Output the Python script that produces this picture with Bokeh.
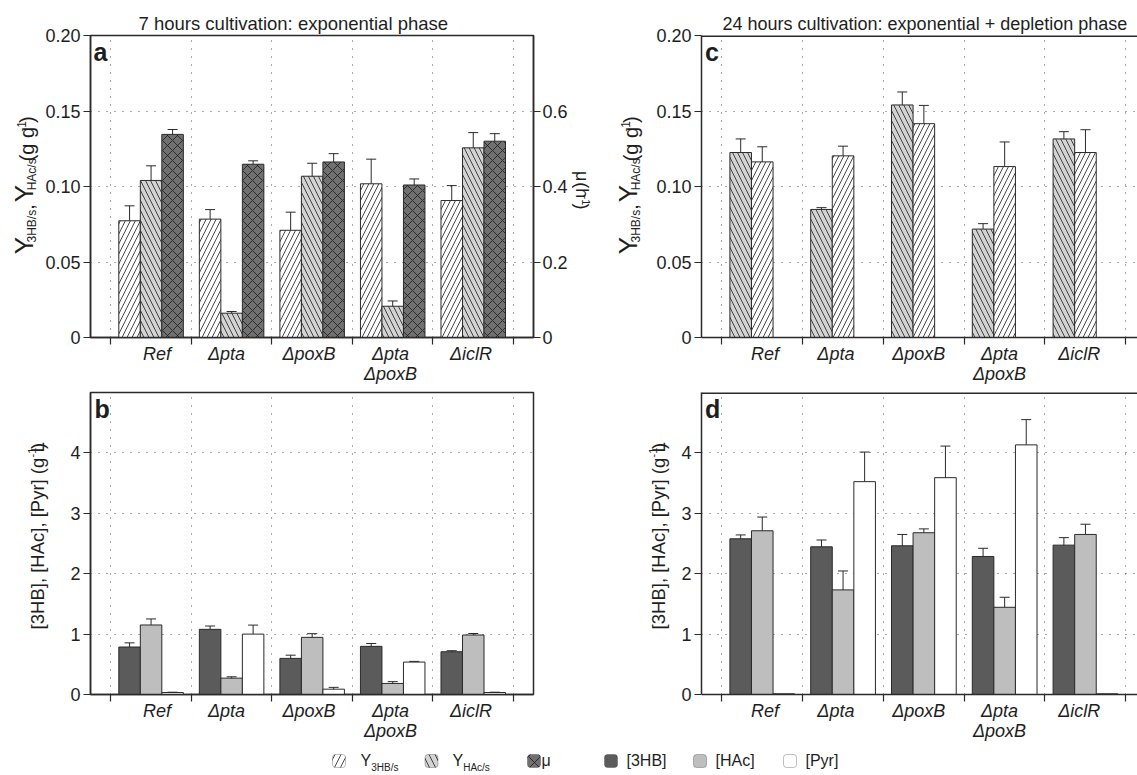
import numpy as np
from bokeh.plotting import figure
from bokeh.models import (Range1d, LinearAxis, FixedTicker, Whisker, TeeHead,
                          ColumnDataSource, Label, Span, BoxAnnotation, Title)
from bokeh.layouts import column, row
from bokeh.embed import file_html
from bokeh.resources import INLINE

# ---------------- data ----------------
strains = ["Ref", "Δpta", "ΔpoxB", "Δpta\nΔpoxB", "ΔiclR"]

# panel a : 7 h, yields (g/g) and growth rate (1/h)
y3hb_7h = [0.0773, 0.0784, 0.0710, 0.1018, 0.0907]
y3hb_7h_err = [0.0099, 0.0063, 0.0120, 0.0163, 0.0099]
yhac_7h = [0.1040, 0.0161, 0.1068, 0.0207, 0.1256]
yhac_7h_err = [0.0097, 0.0011, 0.0086, 0.0035, 0.0101]
mu_7h = [0.538, 0.459, 0.465, 0.404, 0.520]
mu_7h_err = [0.013, 0.009, 0.022, 0.016, 0.020]

# panel c : 24 h, yields (g/g)
yhac_24h = [0.1225, 0.0848, 0.1540, 0.0718, 0.1315]
yhac_24h_err = [0.0090, 0.0012, 0.0086, 0.0036, 0.0048]
y3hb_24h = [0.1163, 0.1203, 0.1416, 0.1132, 0.1225]
y3hb_24h_err = [0.0100, 0.0064, 0.0121, 0.0163, 0.0151]

# panel b : 7 h, concentrations (g/L)
c3hb_7h = [0.786, 1.079, 0.598, 0.797, 0.708]
c3hb_7h_err = [0.069, 0.055, 0.053, 0.047, 0.017]
chac_7h = [1.151, 0.271, 0.946, 0.183, 0.985]
chac_7h_err = [0.100, 0.022, 0.061, 0.030, 0.025]
cpyr_7h = [0.033, 1.000, 0.088, 0.537, 0.033]
cpyr_7h_err = [0.005, 0.149, 0.030, 0.011, 0.005]

# panel d : 24 h, concentrations (g/L)
c3hb_24h = [2.578, 2.445, 2.462, 2.285, 2.473]
c3hb_24h_err = [0.064, 0.113, 0.188, 0.136, 0.124]
chac_24h = [2.711, 1.732, 2.678, 1.444, 2.650]
chac_24h_err = [0.227, 0.313, 0.064, 0.166, 0.169]
cpyr_24h = [0.012, 3.524, 3.590, 4.133, 0.012]
cpyr_24h_err = [0.0, 0.490, 0.523, 0.418, 0.0]

yield_ticks = [0, 0.05, 0.10, 0.15, 0.20]
yield_tick_labels = ["0", "0.05", "0.10", "0.15", "0.20"]
mu_ticks = [0, 0.2, 0.4, 0.6]
mu_tick_labels = ["0", "0.2", "0.4", "0.6"]
conc_ticks = [0, 1, 2, 3, 4]
conc_tick_labels = ["0", "1", "2", "3", "4"]

title_7h = "7 hours cultivation: exponential phase"
title_24h = "24 hours cultivation: exponential + depletion phase"

# ---------------- style ----------------
FONT = "Liberation Sans"
INK = "#1e1e1e"
EDGE = "#2a2a2a"
GRID = "#555555"
HATCH = "#1a1a1a"
C_WHITE = "#ffffff"
C_LGRAY = "#d3d3d3"
C_MU = "#707070"
C_3HB = "#5b5b5b"
C_HAC = "#bebebe"

BAR_W = 0.267
OFFS = [0.235, 0.502, 0.769]
MID = 0.3465   # baseline -> vertical middle of the text box, in em

ADV = {" ": .278, ",": .278, "(": .333, ")": .333, "g": .556, "Y": .667, "3": .556,
       "H": .722, "B": .667, "/": .278, "s": .5, "A": .667, "c": .5, "-": .333,
       "1": .556, "[": .278, "]": .278, "P": .667, "y": .5, "r": .333, "L": .556,
       "h": .556, "μ": .576}


def tw(s, size):
    return sum(ADV.get(ch, 0.556) for ch in s) * size


idx = np.arange(len(strains))


def style_axis(ax, standoff=3):
    ax.axis_line_color = EDGE
    ax.axis_line_width = 1.5
    ax.major_tick_line_color = EDGE
    ax.major_tick_line_width = 1.2
    ax.minor_tick_line_color = EDGE
    ax.minor_tick_line_width = 1.2
    ax.major_tick_out = 7
    ax.major_tick_in = 0
    ax.minor_tick_out = 0
    ax.minor_tick_in = 0
    ax.major_label_text_font = FONT
    ax.major_label_text_font_size = "18px"
    ax.major_label_text_color = INK
    ax.major_label_standoff = standoff


def base_fig(width, height, left, right, top, bottom, x_end, y_end,
             yticks, ylabels, dx, upx, box=True):
    p = figure(width=width, height=height, title=None,
               x_range=Range1d(-0.25, x_end), y_range=Range1d(0, y_end),
               output_backend="svg", toolbar_location=None,
               min_border_left=left, min_border_right=right,
               min_border_top=top, min_border_bottom=bottom)
    p.background_fill_color = "white"
    p.border_fill_color = "white"
    if box:
        p.outline_line_color = EDGE
        p.outline_line_width = 1.5
    else:
        p.outline_line_color = None
        p.add_layout(Span(location=y_end, dimension="width",
                          line_color=EDGE, line_width=3))
    centers = [float(i + 0.5 + dx[i] / upx) for i in idx]
    xa = p.xaxis[0]
    style_axis(xa, standoff=-1)
    xa.ticker = FixedTicker(ticks=centers, minor_ticks=list(range(6)))
    xa.major_label_overrides = dict(zip(centers, strains))
    xa.major_label_text_font_style = "italic"
    xa.major_label_text_line_height = 1.0
    xa.major_tick_out = 0
    xa.minor_tick_out = 7
    ya = p.yaxis[0]
    style_axis(ya)
    ya.ticker = FixedTicker(ticks=yticks)
    ya.major_label_overrides = dict(zip(yticks, ylabels))
    p.xgrid[0].ticker = FixedTicker(ticks=list(range(6)))
    p.ygrid[0].ticker = FixedTicker(ticks=yticks)
    for g in (p.xgrid[0], p.ygrid[0]):
        g.grid_line_color = GRID
        g.grid_line_dash = "1 7"
        g.grid_line_width = 1
    return p


def bars(p, slot, vals, fill, hatch=None, rng="default"):
    kw = {}
    if hatch:
        kw = dict(hatch_pattern=hatch, hatch_color=HATCH, hatch_scale=10,
                  hatch_weight=0.8)
    p.vbar(x=idx + OFFS[slot], top=vals, bottom=0, width=BAR_W,
           fill_color=fill, line_color=EDGE, line_width=1,
           y_range_name=rng, **kw)


def errs(p, slot, vals, err, rng="default"):
    v = np.array(vals, dtype=float)
    e = np.array(err, dtype=float)
    m = e > 0
    src = ColumnDataSource(dict(x=(idx + OFFS[slot])[m], lo=(v - e)[m], hi=(v + e)[m]))
    p.add_layout(Whisker(source=src, base="x", lower="lo", upper="hi",
                         line_color=EDGE, line_width=1, y_range_name=rng,
                         upper_head=TeeHead(size=10, line_color=EDGE, line_width=1),
                         lower_head=TeeHead(size=10, line_color=EDGE, line_width=1)))


def lab(p, text, x, y, size, xu="data", yu="data", align="left",
        baseline="middle", style="normal", angle=0.0):
    p.add_layout(Label(x=x, y=y, text=text, x_units=xu, y_units=yu,
                       text_align=align, text_baseline=baseline,
                       text_font=FONT, text_font_size=f"{size}px",
                       text_font_style=style, text_color=INK, angle=angle))


def rot_label(p, pieces, xbase, ystart, up=True):
    """Rotated multi-piece label; each piece centred on its own slot."""
    ang = np.pi / 2 if up else -np.pi / 2
    sgn = 1 if up else -1
    y = ystart
    for text, size, shift in pieces:
        w = tw(text, size)
        if text.strip():
            mid = MID * size
            xm = xbase + shift - mid if up else xbase + shift + mid
            lab(p, text, xm, y + sgn * w / 2, size, align="center", angle=ang)
        y += sgn * w


def strip(width, height):
    s = figure(width=width, height=height, title=None, x_range=Range1d(0, width),
               y_range=Range1d(0, height), output_backend="svg",
               toolbar_location=None, x_axis_type=None, y_axis_type=None,
               min_border=0)
    s.outline_line_color = None
    s.background_fill_color = "white"
    s.border_fill_color = "white"
    return s


def add_title(p, text, offset, size):
    p.add_layout(Title(text=text, align="left", offset=offset, standoff=4,
                       text_font=FONT, text_font_size=f"{size}px",
                       text_font_style="normal", text_color=INK), "above")


def panel_letter(p, letter, x):
    # baseline 25 px below the frame top (frame height 302)
    lab(p, letter, x, 277 + MID * 25, 25, xu="screen", yu="screen", style="bold")


YIELD_LABEL = [("Y", 26, 0), ("3HB/s", 12, 3), (" ", 20, 0), (",", 20, 0), (" ", 20, 0),
               ("Y", 26, 0), ("HAc/s", 12, 3), (" ", 20, 0), ("(g g", 20, 0),
               ("-1", 12, -8), (")", 20, 0)]
CONC_LABEL = [("[3HB], [HAc], [Pyr] (g L", 18.5, 0), ("-1", 11, -8), (")", 18.5, 0)]
MU_LABEL = [("μ", 18, 0), (" ", 18, 0), ("(h", 18, 0), ("-1", 11, 7), (")", 18, 0)]

DX_A = [6, -5, -3, -2, -2]
DX_C = [3, -7, -5, -5, -6]
UPX_A = 443 / 5.5
UPX_C = 80.8
XEND_C = -0.25 + 436 / UPX_C

H_A = 387   # row A height (frame 35..337)
H_B = 357   # row B height (frame 392..694)

# ---------------- row A ----------------
la = strip(42, H_A)
rot_label(la, YIELD_LABEL, 33, H_A - 278, up=True)

pa = base_fig(528, H_A, 48, 37, 35, 50, 5.25, 0.20, yield_ticks, yield_tick_labels,
              DX_A, UPX_A)
add_title(pa, title_7h, 48, 18.5)
pa.extra_y_ranges = {"mu": Range1d(0, 0.8)}
rax = LinearAxis(y_range_name="mu", ticker=FixedTicker(ticks=mu_ticks),
                 major_label_overrides=dict(zip(mu_ticks, mu_tick_labels)))
style_axis(rax, standoff=2)
pa.add_layout(rax, "right")
bars(pa, 0, y3hb_7h, C_WHITE, "/")
bars(pa, 1, yhac_7h, C_LGRAY, "\\")
bars(pa, 2, mu_7h, C_MU, "x", rng="mu")
errs(pa, 0, y3hb_7h, y3hb_7h_err)
errs(pa, 1, yhac_7h, yhac_7h_err)
errs(pa, 2, mu_7h, mu_7h_err, rng="mu")
panel_letter(pa, "a", 3)

lc = strip(83, H_A)
rot_label(lc, MU_LABEL, 5, H_A - 175, up=False)
rot_label(lc, YIELD_LABEL, 67, H_A - 278, up=True)

pc = base_fig(484, H_A, 48, 0, 35, 50, XEND_C, 0.20, yield_ticks, yield_tick_labels,
              DX_C, UPX_C, box=False)
add_title(pc, title_24h, 21, 18)
bars(pc, 0, yhac_24h, C_LGRAY, "\\")
bars(pc, 1, y3hb_24h, C_WHITE, "/")
errs(pc, 0, yhac_24h, yhac_24h_err)
errs(pc, 1, y3hb_24h, y3hb_24h_err)
panel_letter(pc, "c", 3.5)

# ---------------- row B ----------------
lb = strip(50, H_B)
rot_label(lb, CONC_LABEL, 43, 744 - 650, up=True)

pb = base_fig(520, H_B, 40, 37, 5, 50, 5.25, 5, conc_ticks, conc_tick_labels,
              DX_A, UPX_A)
bars(pb, 0, c3hb_7h, C_3HB)
bars(pb, 1, chac_7h, C_HAC)
bars(pb, 2, cpyr_7h, C_WHITE)
errs(pb, 0, c3hb_7h, c3hb_7h_err)
errs(pb, 1, chac_7h, chac_7h_err)
errs(pb, 2, cpyr_7h, cpyr_7h_err)
panel_letter(pb, "b", 4)

ld = strip(100, H_B)
rot_label(ld, CONC_LABEL, 94, 744 - 650, up=True)

pd_ = base_fig(467, H_B, 31, 0, 5, 50, XEND_C, 5, conc_ticks, conc_tick_labels,
               DX_C, UPX_C, box=False)
bars(pd_, 0, c3hb_24h, C_3HB)
bars(pd_, 1, chac_24h, C_HAC)
bars(pd_, 2, cpyr_24h, C_WHITE)
errs(pd_, 0, c3hb_24h, c3hb_24h_err)
errs(pd_, 1, chac_24h, chac_24h_err)
errs(pd_, 2, cpyr_24h, cpyr_24h_err)
panel_letter(pd_, "d", 3.5)

# ---------------- legend ----------------
LEG_H = 31
leg = strip(1137, LEG_H)
BASE_Y = 766   # text baseline (picture px)
legend_items = [
    (338.5, C_WHITE, "/", [("Y", 16, 0), ("3HB/s", 10, 4)], 360),
    (431.0, C_LGRAY, "\\", [("Y", 16, 0), ("HAc/s", 10, 4)], 452),
    (533.5, C_MU, "x", [("μ", 16, 0)], 541),
    (610.5, C_3HB, None, [("[3HB]", 16, 0)], 626),
    (699.5, C_HAC, None, [("[HAc]", 16, 0)], 715),
    (789.5, C_WHITE, None, [("[Pyr]", 16, 0)], 805),
]
for cx, fill, hatch, pieces, tx in legend_items:
    kw = {}
    if hatch:
        kw = dict(hatch_pattern=hatch, hatch_color=HATCH, hatch_scale=12, hatch_weight=0.8)
    leg.add_layout(BoxAnnotation(left=cx - 6.5, right=cx + 6.5, bottom=8, top=21,
                                 fill_color=fill, fill_alpha=1, line_color=EDGE,
                                 line_width=1, border_radius=3, **kw))
    x = tx
    for text, size, drop in pieces:
        ymid = 775 - (BASE_Y + drop) + MID * size
        lab(leg, text, x, ymid, size)
        x += tw(text, size)

layout = column(row(la, pa, lc, pc), row(lb, pb, ld, pd_), leg)
open("out.html", "w").write(file_html(layout, INLINE))
